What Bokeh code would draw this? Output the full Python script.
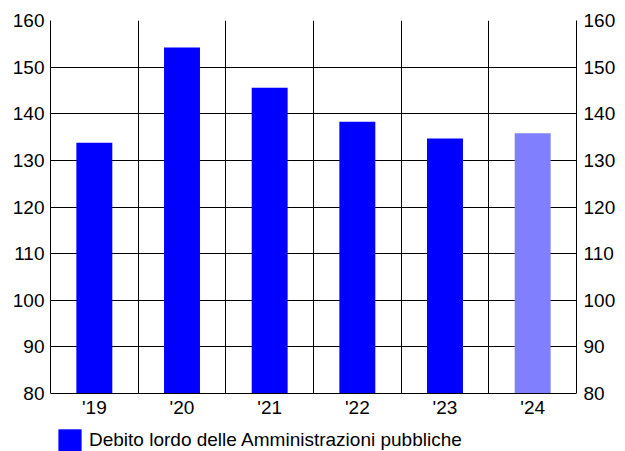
from bokeh.plotting import figure
from bokeh.models import (FactorRange, Range1d, LinearAxis, FixedTicker, Legend,
                          LegendItem, ColumnDataSource, Grid, BoxAnnotation)
from bokeh.embed import file_html
from bokeh.resources import INLINE

years = ["'19", "'20", "'21", "'22", "'23", "'24"]
debt = [133.8, 154.2, 145.6, 138.3, 134.7, 135.8]
colors = ["#0000ff", "#0000ff", "#0000ff", "#0000ff", "#0000ff", "#8080ff"]
y_ticks = [80, 90, 100, 110, 120, 130, 140, 150, 160]
series_name = "Debito lordo delle Amministrazioni pubbliche"

FONT = "Liberation Sans"

# frame spans from the top of the plot to the bottom of the page so that the
# legend can live inside it; the value axis itself covers 80..160 only
Y_MIN, Y_MAX = 80, 160
FRAME_H = 431
PLOT_H = 373
y_start = Y_MAX - (Y_MAX - Y_MIN) * FRAME_H / PLOT_H

src = ColumnDataSource(dict(x=years, top=debt, color=colors))

p = figure(width=625, height=451, output_backend="svg", toolbar_location=None,
           x_range=FactorRange(*years, range_padding=0), y_range=Range1d(y_start, Y_MAX),
           min_border_left=50, min_border_right=49, min_border_top=20, min_border_bottom=0,
           y_axis_location=None)

p.background_fill_color = "white"
p.border_fill_color = "white"
p.outline_line_color = None

# grid (including top border at 160)
p.xgrid.ticker = FixedTicker(ticks=[1, 2, 3, 4, 5])
p.xgrid.grid_line_color = "black"
p.xgrid.grid_line_width = 1
p.ygrid.ticker = FixedTicker(ticks=y_ticks[1:])
p.ygrid.grid_line_color = "black"
p.ygrid.grid_line_width = 1
p.grid.level = "underlay"
if "cross_bounds" in Grid.properties():
    p.xgrid.cross_bounds = (Y_MIN, Y_MAX)
else:
    p.add_layout(BoxAnnotation(top=Y_MIN, fill_color="white", fill_alpha=1,
                               line_color=None, level="underlay"))

r = p.vbar(x="x", top="top", bottom=Y_MIN, width=0.41, color="color", line_color=None, source=src)

# value axes (left and right), limited to 80..160
left = LinearAxis(ticker=FixedTicker(ticks=y_ticks), bounds=(Y_MIN, Y_MAX))
right = LinearAxis(ticker=FixedTicker(ticks=y_ticks), bounds=(Y_MIN, Y_MAX))
for ax, so in ((left, 6), (right, 7)):
    ax.major_tick_out = 0
    ax.major_tick_in = 0
    ax.minor_tick_out = 0
    ax.minor_tick_in = 0
    ax.axis_line_color = "black"
    ax.major_label_standoff = so
    ax.major_label_text_font = FONT
    ax.major_label_text_font_size = "19px"
    ax.major_label_text_color = "black"
p.add_layout(left, "left")
p.add_layout(right, "right")

# category axis placed at y = 80
xa = p.xaxis[0]
xa.fixed_location = Y_MIN
xa.major_tick_out = 0
xa.major_tick_in = 0
xa.axis_line_color = "black"
xa.major_label_standoff = 3
xa.major_label_text_font = FONT
xa.major_label_text_font_size = "19px"
xa.major_label_text_color = "black"

legend = Legend(items=[LegendItem(label=series_name, renderers=[r], index=0)],
                location=(5, -3), orientation="horizontal",
                glyph_width=29, glyph_height=28, label_standoff=5,
                label_text_font=FONT, label_text_font_size="19px",
                label_text_color="black", label_height=28,
                padding=0, margin=0, spacing=0,
                border_line_color=None, background_fill_alpha=0)
p.add_layout(legend, "center")

open("out.html", "w").write(file_html(p, INLINE))
